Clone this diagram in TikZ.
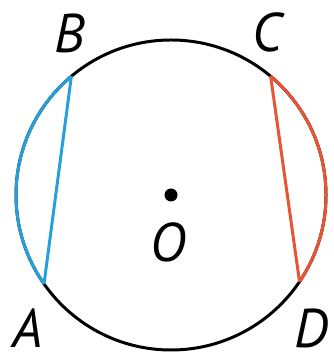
\documentclass[tikz,border=0pt]{standalone}
\usepackage{fontspec}
\setmainfont{PT Sans}
\usetikzlibrary{calc}
\definecolor{arcblue}{RGB}{38,160,218}
\definecolor{arcred}{RGB}{232,84,52}
\tikzset{lbl/.style={font=\fontsize{15.5}{16}\selectfont\itshape, inner sep=0pt}}

\begin{document}
\begin{tikzpicture}[x=0.01cm,y=0.01cm, line width=0.85pt]
  \useasboundingbox (0,0) rectangle (333,358);
  % 中心と円周上の点
  \coordinate (O) at (171,163);
  \coordinate (B) at ($(O)+(130:155)$);
  \coordinate (C) at ($(O)+(50:155)$);
  \coordinate (A) at ($(O)+(215:155)$);
  \coordinate (D) at ($(O)+(-34:155)$);
  % 円
  \draw (O) circle (155);
  % 弧 AB と弦 AB
  \draw[arcblue] (B) arc (130:215:155);
  \draw[arcblue] (B) -- (A);
  % 弧 CD と弦 CD
  \draw[arcred] (D) arc (-34:50:155);
  \draw[arcred] (C) -- (D);
  % 中心
  \fill (O) circle (6.5);
  \node[lbl] (lO) at (168,116) {O};
  \node[lbl] (lA) at (28,30) {A};
  \node[lbl] (lB) at (70,325) {B};
  \node[lbl] (lC) at (267,326) {C};
  \node[lbl] (lD) at (311,30) {D};
\end{tikzpicture}
\end{document}
